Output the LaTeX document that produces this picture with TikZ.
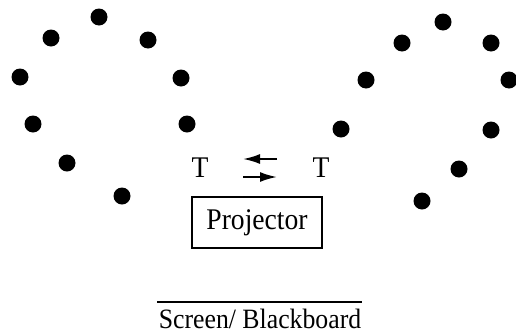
\documentclass[tikz,border=0pt]{standalone}
\usepackage{fontspec}
\setmainfont[FakeStretch=0.92]{Liberation Serif}
\usetikzlibrary{arrows.meta}
\begin{document}
\begin{tikzpicture}[x=1pt,y=-1pt,
  dot/.style={circle,fill=black,inner sep=0pt,minimum size=17pt},
  lbl/.style={font=\fontsize{30}{33}\selectfont,inner sep=0pt},
  arr/.style={line width=2pt,-{Latex[length=17pt,width=10pt]}}]
\useasboundingbox (0,0) rectangle (516,335);
% left group
\node[dot] (l1) at (99,17) {};
\node[dot] (l2) at (51,38) {};
\node[dot] (l3) at (148,40) {};
\node[dot] (l4) at (20,77) {};
\node[dot] (l5) at (181,78) {};
\node[dot] (l6) at (33,124) {};
\node[dot] (l7) at (187,124) {};
\node[dot] (l8) at (67,163) {};
\node[dot] (l9) at (122,196) {};
% right group
\node[dot] (r1) at (443,22) {};
\node[dot] (r2) at (402,43) {};
\node[dot] (r3) at (491,43) {};
\node[dot] (r4) at (366,80) {};
\node[dot] (r5) at (509,80) {};
\node[dot] (r6) at (341,129) {};
\node[dot] (r7) at (491,130) {};
\node[dot] (r8) at (459,169) {};
\node[dot] (r9) at (422,201) {};
% T labels and arrows
\node[lbl] (tl) at (200,168) {T};
\node[lbl] (tr) at (321,168) {T};
\coordinate (a1s) at (277,159);
\coordinate (a1e) at (243,159);
\coordinate (a2s) at (243,177);
\coordinate (a2e) at (277,177);
\draw[arr] (a1s) -- (a1e);
\draw[arr] (a2s) -- (a2e);
% projector
\node[lbl,draw,line width=1.5pt,minimum width=130pt,minimum height=51pt] (proj) at (257,222.5) {Projector};
% screen
\coordinate (s1) at (157,302);
\coordinate (s2) at (362,302);
\draw[line width=1.8pt] (s1) -- (s2);
\node[lbl,font=\fontsize{28}{30}\selectfont,anchor=base] (screen) at (260,328) {Screen/ Blackboard};
\end{tikzpicture}
\end{document}
